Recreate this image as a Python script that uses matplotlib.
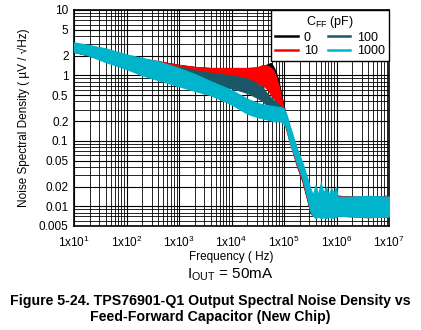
import numpy as np
import matplotlib
matplotlib.use("Agg")
import matplotlib.pyplot as plt
from matplotlib.lines import Line2D

plt.rcParams['font.family'] = ['Liberation Sans', 'DejaVu Sans']
plt.rcParams['mathtext.fontset'] = 'custom'
plt.rcParams['mathtext.rm'] = 'Liberation Sans'
plt.rcParams['mathtext.it'] = 'Liberation Sans:italic'
plt.rcParams['mathtext.bf'] = 'Liberation Sans:bold'

# ---- data (log10 of frequency in Hz) ----
log_freq = [1.0, 1.3, 1.6, 2.0, 2.3, 2.6, 3.0, 3.3, 3.6, 4.0, 4.3, 4.5, 4.6, 4.7,
            4.75, 4.8, 4.85, 4.9, 4.95, 5.0, 5.05, 5.1, 5.17, 5.25, 5.35, 5.45,
            5.5, 5.55, 5.6, 5.65, 5.7, 5.75, 5.8, 5.85, 5.9, 5.95, 5.99, 6.02,
            6.3, 6.6, 7.0]

# C_FF = 0 pF (black)
cff0_upper = [3.1, 2.75, 2.45, 2.0, 1.8, 1.65, 1.45, 1.35, 1.3, 1.3, 1.3, 1.3, 1.38, 1.5,
              1.55, 1.35, 1.1, 0.8, 0.5, 0.33, 0.22, 0.15, 0.095, 0.058, 0.034, 0.018,
              0.013, 0.014, 0.014, 0.0135, 0.014, 0.014, 0.0135, 0.014, 0.014, 0.0135,
              0.014, 0.0145, 0.014, 0.014, 0.0145]
cff0_lower = [2.3, 2.0, 1.7, 1.35, 1.15, 1.0, 0.9, 0.85, 0.82, 0.8, 0.8, 0.85, 0.9, 1.0,
              1.0, 0.85, 0.65, 0.45, 0.33, 0.24, 0.16, 0.11, 0.07, 0.042, 0.025, 0.012,
              0.0085, 0.0075, 0.007, 0.0072, 0.007, 0.0072, 0.007, 0.0072, 0.007, 0.0072,
              0.007, 0.0075, 0.0072, 0.007, 0.0072]

# C_FF = 10 pF (red)
cff10_upper = [3.05, 2.75, 2.45, 2.0, 1.8, 1.65, 1.45, 1.35, 1.3, 1.3, 1.3, 1.35, 1.45, 1.4,
               1.3, 1.2, 0.95, 0.7, 0.45, 0.3, 0.2, 0.14, 0.09, 0.055, 0.032, 0.017,
               0.013, 0.014, 0.014, 0.0135, 0.014, 0.014, 0.0135, 0.014, 0.014, 0.0135,
               0.014, 0.0145, 0.014, 0.014, 0.0145]
cff10_lower = [2.3, 2.0, 1.7, 1.35, 1.15, 1.0, 0.9, 0.85, 0.82, 0.8, 0.8, 0.75, 0.7, 0.6,
               0.5, 0.45, 0.4, 0.36, 0.28, 0.2, 0.14, 0.1, 0.065, 0.04, 0.024, 0.012,
               0.008, 0.0072, 0.0068, 0.007, 0.0068, 0.007, 0.0068, 0.007, 0.0068, 0.007,
               0.0068, 0.0072, 0.007, 0.0068, 0.007]

# C_FF = 100 pF (dark teal)
cff100_upper = [3.0, 2.7, 2.4, 1.95, 1.75, 1.55, 1.35, 1.2, 1.1, 1.0, 0.9, 0.75, 0.65, 0.5,
                0.46, 0.42, 0.39, 0.36, 0.34, 0.3, 0.22, 0.16, 0.1, 0.062, 0.036, 0.02,
                0.014, 0.014, 0.014, 0.0135, 0.014, 0.014, 0.0135, 0.014, 0.014, 0.0135,
                0.014, 0.014, 0.014, 0.014, 0.014]
cff100_lower = [2.3, 2.0, 1.65, 1.3, 1.1, 0.95, 0.8, 0.72, 0.68, 0.64, 0.54, 0.45, 0.4, 0.33,
                0.3, 0.28, 0.26, 0.25, 0.23, 0.2, 0.15, 0.11, 0.072, 0.044, 0.026, 0.013,
                0.008, 0.0072, 0.007, 0.0072, 0.007, 0.0072, 0.007, 0.0072, 0.007, 0.0072,
                0.007, 0.0075, 0.0072, 0.007, 0.0072]

# C_FF = 1000 pF (cyan)
cff1000_upper = [3.2, 2.9, 2.6, 2.1, 1.85, 1.65, 1.3, 1.05, 0.82, 0.6, 0.44, 0.38, 0.36, 0.35,
                 0.345, 0.34, 0.335, 0.33, 0.33, 0.31, 0.25, 0.18, 0.12, 0.075, 0.047, 0.026,
                 0.019, 0.015, 0.021, 0.015, 0.023, 0.016, 0.02, 0.015, 0.019, 0.016,
                 0.02, 0.014, 0.014, 0.0145, 0.014]
cff1000_lower = [2.3, 2.0, 1.6, 1.25, 1.0, 0.85, 0.68, 0.58, 0.5, 0.36, 0.26, 0.23, 0.22, 0.21,
                 0.205, 0.2, 0.2, 0.2, 0.195, 0.18, 0.15, 0.1, 0.068, 0.044, 0.027, 0.013,
                 0.0085, 0.0072, 0.0066, 0.007, 0.0066, 0.0068, 0.0066, 0.007, 0.0066, 0.0068,
                 0.0068, 0.0072, 0.007, 0.0068, 0.007]

series_labels = ['0', '10', '100', '1000']
series_colors = ['#000000', '#ff0000', '#1a5868', '#00b4cc']

y_ticks = [0.005, 0.01, 0.02, 0.05, 0.1, 0.2, 0.5, 1, 2, 5, 10]
y_tick_labels = ['0.005', '0.01', '0.02', '0.05', '0.1', '0.2', '0.5', '1', '2', '5', '10']
x_exponents = [1, 2, 3, 4, 5, 6, 7]

# ---- figure ----
fig = plt.figure(figsize=(4.21, 3.30), dpi=100)
ax = fig.add_axes([74/421, 1-226/330, (389-74)/421, (226-10)/330])

freq = 10 ** np.array(log_freq)
uppers = [cff0_upper, cff10_upper, cff100_upper, cff1000_upper]
lowers = [cff0_lower, cff10_lower, cff100_lower, cff1000_lower]
for up, lo, c in zip(uppers, lowers, series_colors):
    ax.fill_between(freq, lo, up, facecolor=c, edgecolor=c, linewidth=0.8, zorder=3)

ax.set_xscale('log')
ax.set_yscale('log')
ax.set_xlim(10, 1e7)
ax.set_ylim(0.005, 10)

ax.set_xticks([10.0 ** e for e in x_exponents])
ax.set_xticklabels([f'1x10$^{{{e}}}$' for e in x_exponents], fontsize=8.5)
ax.xaxis.set_minor_locator(matplotlib.ticker.LogLocator(base=10, subs=np.arange(2, 10)))
ax.xaxis.set_minor_formatter(matplotlib.ticker.NullFormatter())
ax.set_yticks(y_ticks)
ax.set_yticklabels(y_tick_labels, fontsize=8.5)
ax.yaxis.set_minor_locator(matplotlib.ticker.LogLocator(base=10, subs=np.arange(1, 10), numticks=20))
ax.yaxis.set_minor_formatter(matplotlib.ticker.NullFormatter())
ax.tick_params(which='both', length=0)
ax.tick_params(axis='x', which='major', pad=6)
ax.tick_params(axis='y', which='major', pad=4)

ax.grid(True, which='major', color='black', linewidth=0.8, zorder=1)
ax.grid(True, which='minor', color='black', linewidth=0.6, zorder=1)
ax.set_axisbelow(True)
for s in ax.spines.values():
    s.set_linewidth(1.2)
    s.set_color('black')

ax.set_xlabel('Frequency ( Hz)', fontsize=8.5, labelpad=1)
ax.set_ylabel('Noise Spectral Density ( \u00b5V / \u221aHz)', fontsize=8.5, labelpad=6)

handles = [Line2D([0], [0], color=c, lw=1.8) for c in series_colors]
leg = ax.legend(handles, series_labels, title='C$_{\\mathregular{FF}}$ (pF)', ncol=2,
                loc='upper right', bbox_to_anchor=(1.0, 1.0), borderaxespad=0.0,
                fontsize=9, title_fontsize=9, fancybox=False, framealpha=1,
                edgecolor='black', handlelength=1.8, handletextpad=0.5,
                columnspacing=0.8, labelspacing=0.1, borderpad=0.35)
leg.get_frame().set_linewidth(1.0)
leg.set_zorder(5)

fig.text(230/421, 1-275/330, 'I$_{\\mathregular{OUT}}$ = 50mA', fontsize=11,
         ha='center', va='center')
fig.text(210/421, 1-301/330, 'Figure 5-24. TPS76901-Q1 Output Spectral Noise Density vs',
         fontsize=10.2, fontweight='bold', ha='center', va='center')
fig.text(210/421, 1-317/330, 'Feed-Forward Capacitor (New Chip)',
         fontsize=10.2, fontweight='bold', ha='center', va='center')

fig.savefig('out.png', dpi=100)
